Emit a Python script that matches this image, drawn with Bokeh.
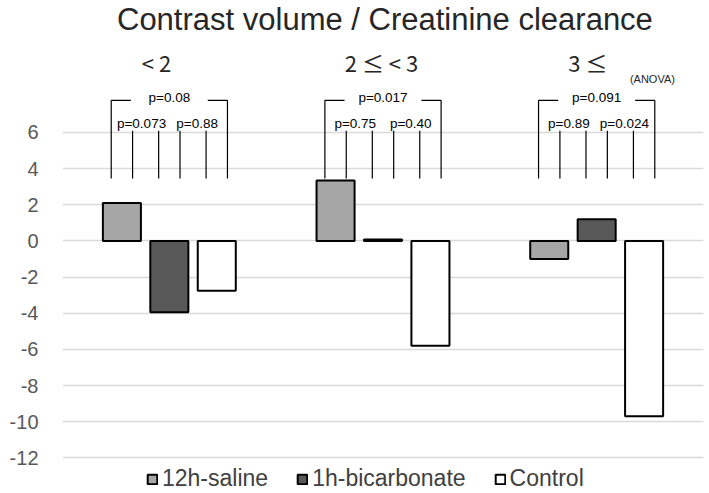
from bokeh.plotting import figure
from bokeh.models import FixedTicker, Legend, LegendItem, Label
from bokeh.core.properties import value
from bokeh.embed import file_html
from bokeh.resources import INLINE

title_text = "Contrast volume / Creatinine clearance"
groups = ["< 2", "2 ≤ < 3", "3 ≤"]
series = ["12h-saline", "1h-bicarbonate", "Control"]
saline = [2.1, 3.35, -1.0]
bicarbonate = [-3.95, 0.08, 1.2]
control = [-2.75, -5.8, -9.7]
p_overall = ["p=0.08", "p=0.017", "p=0.091"]
p_saline_bicarb = ["p=0.073", "p=0.75", "p=0.89"]
p_bicarb_control = ["p=0.88", "p=0.40", "p=0.024"]
y_ticks = [-12, -10, -8, -6, -4, -2, 0, 2, 4, 6]
colors = ["#a6a6a6", "#595959", "#ffffff"]

FONT = "Liberation Sans"

p = figure(width=709, height=493, output_backend="svg", toolbar_location=None,
           x_range=(0, 3), y_range=(-13.97, 13.30),
           min_border_left=62, min_border_right=6, min_border_top=0, min_border_bottom=0)
p.outline_line_color = None
p.xaxis.visible = False
p.xgrid.visible = False
p.yaxis.ticker = FixedTicker(ticks=y_ticks)
p.ygrid.ticker = FixedTicker(ticks=y_ticks)
p.yaxis.major_label_overrides = {t: str(t) for t in y_ticks}
p.ygrid.grid_line_color = "#d9d9d9"
p.ygrid.grid_line_width = 1.5
p.yaxis.axis_line_color = None
p.yaxis.major_tick_line_color = None
p.yaxis.minor_tick_line_color = None
p.yaxis.major_label_text_font = FONT
p.yaxis.major_label_text_font_size = "20px"
p.yaxis.major_label_text_color = "#595959"
p.yaxis.major_label_standoff = 18

centers = [i + 0.5 for i in range(len(groups))]
offsets = [-0.222, 0.0, 0.222]
bar_w = 0.178
renderers = []
for vals, off, col in zip([saline, bicarbonate, control], offsets, colors):
    xs = [c + off for c in centers]
    r = p.vbar(x=xs, top=vals, bottom=0, width=bar_w, fill_color=col,
               line_color="black", line_width=2)
    renderers.append(r)

# significance brackets
tick_off = [-0.05, 0.05]
y_low, y_inner, y_outer = 3.45, 6.1, 7.78
vx0, vy0, vx1, vy1 = [], [], [], []
for c in centers:
    for k, off in enumerate(offsets):
        for t in tick_off:
            x = c + off + t
            outer = (k == 0 and t < 0) or (k == 2 and t > 0)
            vx0.append(x); vx1.append(x); vy0.append(y_low)
            vy1.append(y_outer if outer else y_inner)
    left = c + offsets[0] + tick_off[0]
    right = c + offsets[2] + tick_off[1]
    vx0 += [left, c + 0.18]; vx1 += [c - 0.18, right]
    vy0 += [y_outer, y_outer]; vy1 += [y_outer, y_outer]
p.segment(x0=vx0, y0=vy0, x1=vx1, y1=vy1, line_color="black", line_width=1.2)

ptxt = dict(text_font=value(FONT), text_font_size="13.5px", text_align="center",
            text_baseline="alphabetic", text_color="black")
p.text(x=centers, y=[7.93] * 3, text=p_overall, **ptxt)
p.text(x=[c - 0.13 for c in centers], y=[6.5] * 3, text=p_saline_bicarb, **ptxt)
p.text(x=[c + 0.13 for c in centers], y=[6.5] * 3, text=p_bicarb_control, **ptxt)

# group labels
group_label_x = [0.44, 1.493, 2.459]
p.text(x=group_label_x, y=[9.88] * 3, text=groups, text_font=value("Noto Sans CJK JP"),
       text_font_size="22px", text_align="center", text_baseline="alphabetic",
       text_color="#262626")

# title
p.text(x=[1.509], y=[12.25], text=[title_text], text_font=value(FONT),
       text_font_size="31px", text_align="center", text_baseline="alphabetic",
       text_color="#262626")

p.text(x=[2.761], y=[8.95], text=["(ANOVA)"], text_font=value(FONT),
       text_font_size="11px", text_align="center", text_baseline="alphabetic",
       text_color="#262626")

p.add_layout(Label(x=-0.206, y=7.53, text="(%)", text_font=FONT, text_font_size="19px",
                   text_align="center", text_baseline="middle", text_color="#262626"))

legend = Legend(items=[LegendItem(label=s, renderers=[r]) for s, r in zip(series, renderers)],
                orientation="horizontal", location=(84, 1),
                label_text_font=FONT, label_text_font_size="23px", label_text_color="#404040",
                glyph_width=12, glyph_height=12, label_standoff=4, spacing=28,
                padding=0, margin=0, border_line_color=None, background_fill_alpha=0)
p.add_layout(legend)

open("out.html", "w").write(file_html(p, INLINE))
